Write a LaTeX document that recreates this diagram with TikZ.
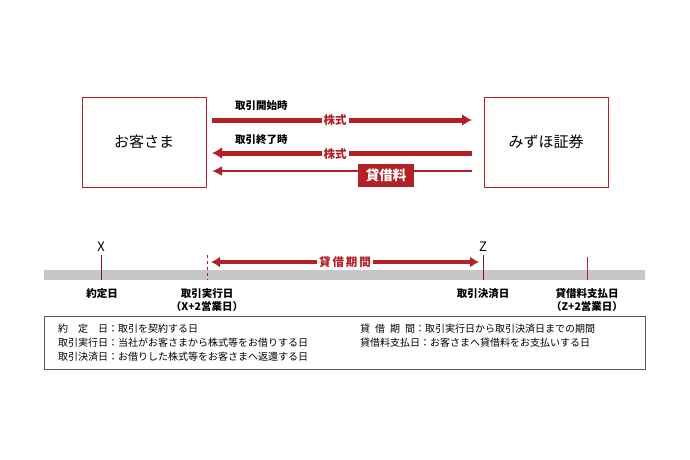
\documentclass[tikz,border=0pt]{standalone}
\usepackage{fontspec}
\usetikzlibrary{arrows.meta}
\setmainfont{Noto Sans CJK JP}
\definecolor{dr}{HTML}{B22028}
\begin{document}
\begin{tikzpicture}[x=1pt,y=-1pt,
 party/.style={draw=dr,line width=0.8pt,minimum width=124pt,minimum height=90pt,font=\fontsize{15}{17}\selectfont,fill=white},
 lbl/.style={font=\fontsize{10.5}{12.5}\selectfont\bfseries,inner sep=1pt},
 redlbl/.style={font=\fontsize{11.5}{13}\selectfont\bfseries,text=dr,fill=white,inner sep=2pt},
 small/.style={font=\fontsize{10}{12}\selectfont,inner sep=0pt,anchor=west}]
\useasboundingbox (0,0) rectangle (690,460);
\node[party] (cust) at (144,142) {お客さま};
\node[party] (miz) at (546,142) {みずほ証券};
\coordinate (a1s) at (212,120); \coordinate (a1e) at (472,120);
\draw[dr,line width=5pt,-{Latex[length=10pt,width=12pt]}] (a1s) -- (a1e);
\node[redlbl] (k1) at (335,120) {株式};
\node[lbl,anchor=west] (t1) at (234,106) {取引開始時};
\coordinate (a2s) at (472,153); \coordinate (a2e) at (212,153);
\draw[dr,line width=5pt,-{Latex[length=10pt,width=12pt]}] (a2s) -- (a2e);
\node[redlbl] (k2) at (335,154) {株式};
\node[lbl,anchor=west] (t2) at (234,140) {取引終了時};
\coordinate (a3s) at (472,171); \coordinate (a3e) at (212,171);
\draw[dr,line width=2pt,-{Latex[length=10pt,width=10pt]}] (a3s) -- (a3e);
\node[fill=dr,text=white,font=\fontsize{13.5}{15}\selectfont\bfseries,minimum width=56pt,minimum height=23pt,inner sep=0pt] (fee) at (386,175) {貸借料};
% timeline
\fill[black!22] (44,270) rectangle (645,280);
\node[font=\fontsize{13}{14}\selectfont] (X) at (101,247) {X};
\node[font=\fontsize{13}{14}\selectfont] (Z) at (483,247) {Z};
\coordinate (xt) at (101,280); \coordinate (et) at (207,280); \coordinate (zt) at (483,280); \coordinate (pt) at (587,280);
\draw[dr!70!black,line width=0.8pt] (X.south) -- (xt);
\draw[dr,line width=0.8pt,dashed] (207,255) -- (et);
\draw[dr!70!black,line width=0.8pt] (Z.south) -- (zt);
\draw[dr,line width=0.8pt] (587,257) -- (pt);
\coordinate (p1) at (211,262); \coordinate (p2) at (479,262);
\draw[dr,line width=4pt,{Latex[length=9pt,width=11pt]}-{Latex[length=9pt,width=11pt]}] (p1) -- (p2);
\node[redlbl] (per) at (345,262) {貸\,借\,期\,間};
\node[lbl] (d1) at (102,294) {約定日};
\node[lbl,align=center] (d2) at (207,300) {取引実行日\\（X+2営業日）};
\node[lbl] (d3) at (483,294) {取引決済日};
\node[lbl,align=center] (d4) at (587,300) {貸借料支払日\\（Z+2営業日）};
\draw[black!65,line width=0.8pt] (44,316) rectangle (645,369);
\node[small] (l1) at (58,329) {約\quad 定\quad 日：取引を契約する日};
\node[small] (l2) at (58,343) {取引実行日：当社がお客さまから株式等をお借りする日};
\node[small] (l3) at (58,357) {取引決済日：お借りした株式等をお客さまへ返還する日};
\node[small] (l4) at (360,329) {貸\enspace 借\enspace 期\enspace 間：取引実行日から取引決済日までの期間};
\node[small] (l5) at (360,343) {貸借料支払日：お客さまへ貸借料をお支払いする日};
\end{tikzpicture}
\end{document}
